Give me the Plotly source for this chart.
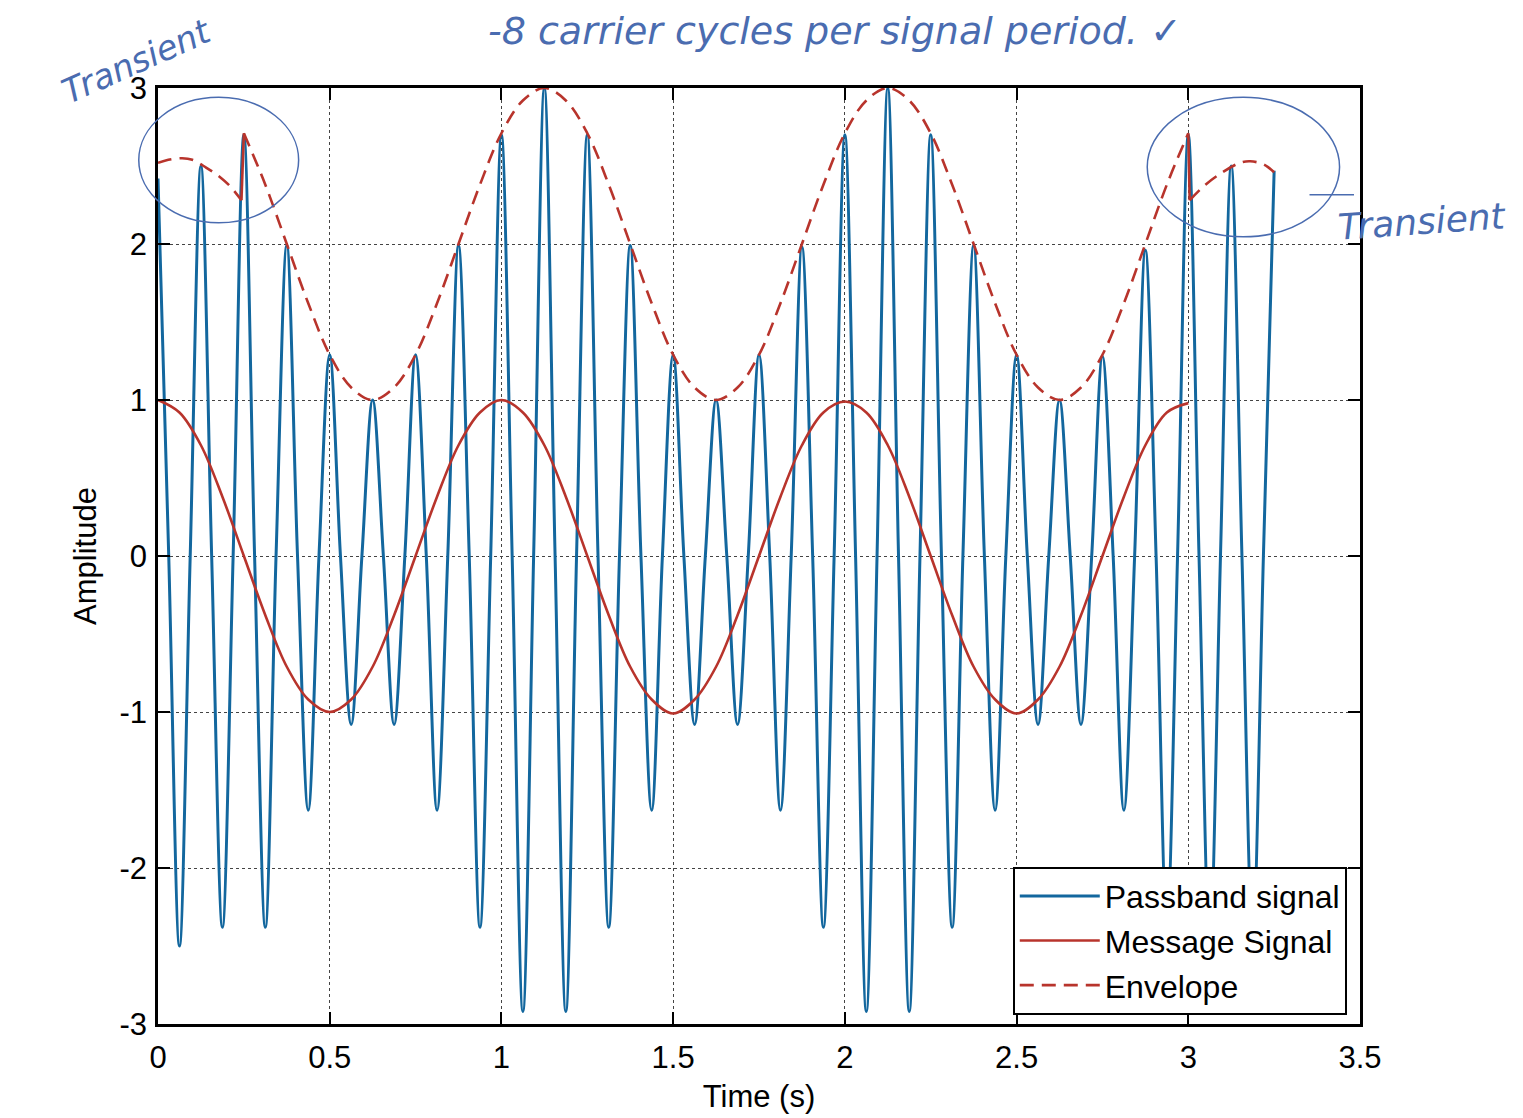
import plotly.graph_objects as go

# ---------------- data ----------------
# Passband signal: carrier peaks, troughs and zero crossings (time in s, amplitude)
peak_times = [0.0, 0.125, 0.25, 0.375, 0.5, 0.625, 0.75, 0.875, 1.0, 1.125, 1.25, 1.375, 1.5, 1.625,
              1.75, 1.875, 2.0, 2.125, 2.25, 2.375, 2.5, 2.625, 2.75, 2.875, 3.0, 3.125, 3.25]
peak_values = [2.42, 2.5, 2.7, 1.99, 1.29, 1.0, 1.29, 1.99, 2.7, 3.0, 2.7, 1.99, 1.29, 1.0,
               1.29, 1.98, 2.7, 3.0, 2.7, 1.99, 1.29, 1.0, 1.28, 1.96, 2.7, 2.5, 2.47]
trough_times = [0.0625, 0.1875, 0.3125, 0.4375, 0.5625, 0.6875, 0.8125, 0.9375, 1.0625, 1.1875,
                1.3125, 1.4375, 1.5625, 1.6875, 1.8125, 1.9375, 2.0625, 2.1875, 2.3125, 2.4375,
                2.5625, 2.6875, 2.8125, 2.9375, 3.0625, 3.1875]
trough_values = [-2.5, -2.38, -2.38, -1.63, -1.08, -1.08, -1.63, -2.38, -2.92, -2.92,
                 -2.38, -1.63, -1.08, -1.08, -1.63, -2.38, -2.92, -2.92, -2.38, -1.63,
                 -1.08, -1.08, -1.63, -2.38, -2.5, -2.45]
crossing_times = [0.03125, 0.09375, 0.15625, 0.21875, 0.28125, 0.34375, 0.40625, 0.46875,
                  0.53125, 0.59375, 0.65625, 0.71875, 0.78125, 0.84375, 0.90625, 0.96875,
                  1.03125, 1.09375, 1.15625, 1.21875, 1.28125, 1.34375, 1.40625, 1.46875,
                  1.53125, 1.59375, 1.65625, 1.71875, 1.78125, 1.84375, 1.90625, 1.96875,
                  2.03125, 2.09375, 2.15625, 2.21875, 2.28125, 2.34375, 2.40625, 2.46875,
                  2.53125, 2.59375, 2.65625, 2.71875, 2.78125, 2.84375, 2.90625, 2.96875,
                  3.03125, 3.09375, 3.15625, 3.21875]
crossing_value = 0.0

# Message signal
message_times = [0.0, 0.0625, 0.125, 0.1875, 0.25, 0.3125, 0.375, 0.4375, 0.5, 0.5625, 0.625, 0.6875,
                 0.75, 0.8125, 0.875, 0.9375, 1.0, 1.0625, 1.125, 1.1875, 1.25, 1.3125, 1.375, 1.4375,
                 1.5, 1.5625, 1.625, 1.6875, 1.75, 1.8125, 1.875, 1.9375, 2.0, 2.0625, 2.125, 2.1875,
                 2.25, 2.3125, 2.375, 2.4375, 2.5, 2.5625, 2.625, 2.6875, 2.75, 2.8125, 2.875, 2.9375, 3.0]
message_values = [1.0, 0.92, 0.71, 0.38, 0.0, -0.38, -0.71, -0.92, -1.0, -0.92, -0.71, -0.38,
                  0.0, 0.38, 0.71, 0.92, 1.0, 0.92, 0.71, 0.38, 0.0, -0.38, -0.71, -0.92,
                  -1.01, -0.92, -0.71, -0.38, 0.0, 0.38, 0.71, 0.92, 0.99, 0.92, 0.71, 0.38,
                  0.0, -0.38, -0.71, -0.92, -1.01, -0.92, -0.71, -0.38, 0.0, 0.38, 0.71, 0.92, 0.98]

# Envelope (start transient, main part, end transient)
env_start_times = [0.0, 0.03, 0.07, 0.1, 0.14, 0.18, 0.21, 0.243]
env_start_values = [2.52, 2.54, 2.55, 2.54, 2.49, 2.43, 2.37, 2.28]
env_main_times = [0.25, 0.3125, 0.375, 0.4375, 0.5, 0.5625, 0.625, 0.6875, 0.75, 0.8125, 0.875, 0.9375,
                  1.0, 1.0625, 1.125, 1.1875, 1.25, 1.3125, 1.375, 1.4375, 1.5, 1.5625, 1.625, 1.6875,
                  1.75, 1.8125, 1.875, 1.9375, 2.0, 2.0625, 2.125, 2.1875, 2.25, 2.3125, 2.375, 2.4375,
                  2.5, 2.5625, 2.625, 2.6875, 2.75, 2.8125, 2.875, 2.9375, 3.0]
env_main_values = [2.71, 2.38, 2.0, 1.62, 1.29, 1.08, 1.0, 1.08, 1.29, 1.62, 2.0, 2.38,
                   2.71, 2.92, 3.0, 2.92, 2.71, 2.38, 2.0, 1.62, 1.29, 1.08, 1.0, 1.08,
                   1.29, 1.62, 2.0, 2.38, 2.71, 2.92, 3.0, 2.92, 2.71, 2.38, 2.0, 1.62,
                   1.29, 1.08, 1.0, 1.08, 1.29, 1.62, 2.0, 2.38, 2.71]
env_end_times = [3.004, 3.05, 3.1, 3.15, 3.18, 3.22, 3.25]
env_end_values = [2.28, 2.38, 2.46, 2.52, 2.53, 2.51, 2.46]

x_ticks = [0, 0.5, 1, 1.5, 2, 2.5, 3, 3.5]
x_tick_text = ["0", "0.5", "1", "1.5", "2", "2.5", "3", "3.5"]
y_ticks = [-3, -2, -1, 0, 1, 2, 3]
y_tick_text = ["-3", "-2", "-1", "0", "1", "2", "3"]

# ---------------- build series ----------------
pts = [(t, v) for t, v in zip(peak_times, peak_values)]
pts += [(t, v) for t, v in zip(trough_times, trough_values)]
pts += [(t, crossing_value) for t in crossing_times]
pts.sort()
pass_t = [p[0] for p in pts]
pass_v = [p[1] for p in pts]

# jumps between envelope pieces
jump_t = [env_start_times[-1], env_main_times[0], None, env_main_times[-1], env_end_times[0]]
jump_v = [env_start_values[-1], env_main_values[0], None, env_main_values[-1], env_end_values[0]]

BLUE = "#13679e"
RED = "#b8342c"
INK = "#4a6cb0"
FONT = "Liberation Sans, Arial, sans-serif"
HAND = "DejaVu Sans, sans-serif"

fig = go.Figure()
fig.add_trace(go.Scatter(x=pass_t, y=pass_v, mode="lines", name="Passband signal",
                         line=dict(color=BLUE, width=3, shape="spline", smoothing=1.0),
                         legendgroup="p"))
fig.add_trace(go.Scatter(x=message_times, y=message_values, mode="lines", name="Message Signal",
                         line=dict(color=RED, width=2.6, shape="spline", smoothing=1.0),
                         legendgroup="m"))
env_line = dict(color=RED, width=2.6, dash="14px,8px", shape="spline", smoothing=1.0)
fig.add_trace(go.Scatter(x=env_main_times, y=env_main_values, mode="lines", name="Envelope",
                         line=env_line, legendgroup="e"))
fig.add_trace(go.Scatter(x=env_start_times, y=env_start_values, mode="lines", name="Envelope",
                         line=env_line, legendgroup="e", showlegend=False))
fig.add_trace(go.Scatter(x=env_end_times, y=env_end_values, mode="lines", name="Envelope",
                         line=env_line, legendgroup="e", showlegend=False))
fig.add_trace(go.Scatter(x=jump_t, y=jump_v, mode="lines", name="Envelope",
                         line=dict(color=RED, width=2.6), legendgroup="e", showlegend=False))

axis_common = dict(showline=True, linecolor="black", linewidth=2.5, mirror="allticks",
                   ticks="inside", ticklen=12, tickwidth=2, tickcolor="black",
                   showgrid=True, gridcolor="#444444", gridwidth=1, griddash="dot",
                   zeroline=False, tickfont=dict(family=FONT, size=31, color="black"))

fig.update_xaxes(range=[0, 3.5], tickvals=x_ticks, ticktext=x_tick_text, ticklabelstandoff=4,
                 title=dict(text="Time (s)", font=dict(family=FONT, size=31, color="black"), standoff=12),
                 **axis_common)
fig.update_yaxes(range=[-3, 3], tickvals=y_ticks, ticktext=y_tick_text, ticklabelstandoff=2,
                 title=dict(text="Amplitude", font=dict(family=FONT, size=31, color="black"), standoff=14),
                 **axis_common)

# hand-written notes
fig.add_annotation(text="-8 carrier cycles per signal period. \u2713", xref="paper", yref="paper",
                   x=0.563, y=1.061, xanchor="center", yanchor="middle", showarrow=False,
                   font=dict(family=HAND, size=38, color=INK, style="italic"))
fig.add_annotation(text="Transient", xref="paper", yref="paper", x=-0.018, y=1.029,
                   xanchor="center", yanchor="middle", showarrow=False, textangle=-24,
                   font=dict(family=HAND, size=34, color=INK, style="italic"))
fig.add_annotation(text="Transient", xref="paper", yref="paper", x=1.052, y=0.857,
                   xanchor="center", yanchor="middle", showarrow=False, textangle=-4,
                   font=dict(family=HAND, size=36, color=INK, style="italic"))
fig.add_shape(type="circle", xref="paper", yref="paper", x0=-0.016, x1=0.117, y0=0.856, y1=0.990,
              line=dict(color=INK, width=1.5))
fig.add_shape(type="circle", xref="paper", yref="paper", x0=0.823, x1=0.983, y0=0.841, y1=0.990,
              line=dict(color=INK, width=1.5))
fig.add_shape(type="line", xref="paper", yref="paper", x0=0.958, x1=0.995, y0=0.886, y1=0.886,
              line=dict(color=INK, width=1.5))

fig.update_layout(
    width=1523, height=1118,
    margin=dict(l=150, r=171, t=80, b=102, autoexpand=False),
    paper_bgcolor="white", plot_bgcolor="white",
    font=dict(family=FONT, color="black"),
    legend=dict(x=0.989, y=0.01, xanchor="right", yanchor="bottom",
                bgcolor="white", bordercolor="black", borderwidth=2,
                font=dict(family=FONT, size=32, color="black"),
                itemwidth=80, traceorder="grouped", tracegroupgap=0),
)

fig.write_html("out.html")
